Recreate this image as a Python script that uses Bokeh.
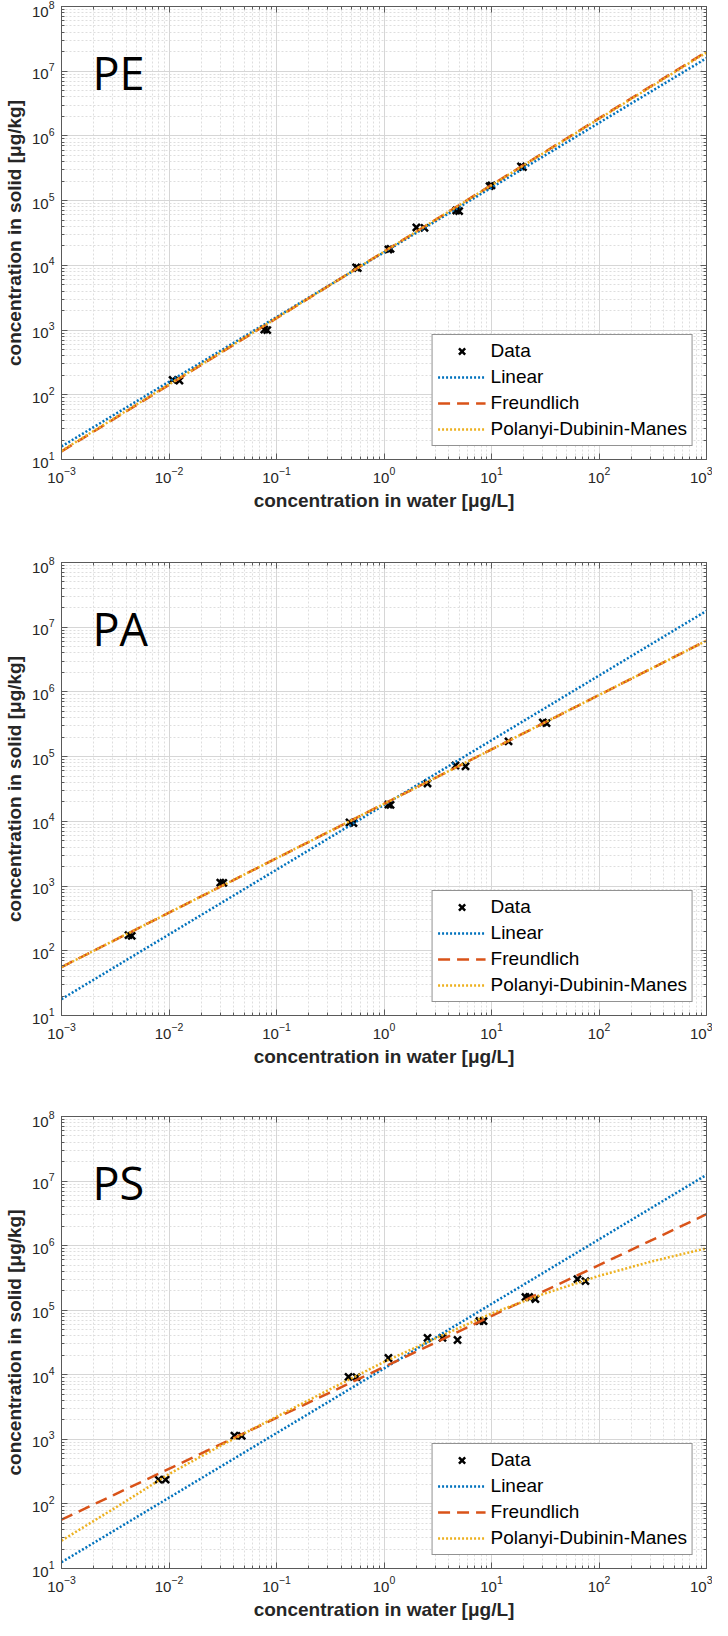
from bokeh.plotting import figure
from bokeh.models import Range1d, LogAxis, LogTicker, Legend, LegendItem, Label, CustomJSTickFormatter
from bokeh.layouts import column
from bokeh.embed import file_html
from bokeh.resources import INLINE

# ---------------- data ----------------
panel_names = ["PE", "PA", "PS"]

pe_water = [0.0108, 0.0125, 0.077, 0.082, 0.55, 0.57, 1.10, 1.15, 2.00, 2.38, 4.7, 5.0, 9.6, 10.0, 18.8, 19.6]
pe_solid = [170, 166, 1020, 1000, 9300, 9100, 17600, 18000, 38500, 38000, 70500, 69000, 168000, 172000, 338000, 330000]

pa_water = [0.0042, 0.0045, 0.030, 0.032, 0.478, 0.52, 1.10, 1.15, 2.54, 4.62, 5.73, 14.4, 30.0, 32.5]
pa_solid = [175, 170, 1130, 1120, 9600, 9400, 18200, 18000, 38500, 73000, 70600, 172000, 338000, 330000]

ps_water = [0.0080, 0.0093, 0.0406, 0.0475, 0.468, 0.555, 1.10, 2.54, 3.5, 4.83, 7.73, 8.43, 20.7, 22.4, 25.6, 63, 74.8]
ps_solid = [238, 238, 1140, 1130, 9300, 9200, 18200, 37200, 37200, 34600, 68000, 68000, 160000, 160000, 149000, 303000, 282000]

fit_x = [0.001, 1000]
pe_linear = [15.9, 1.59e7]
pe_freundlich = [13.3, 2.0e7]
pe_pdm = [13.6, 1.95e7]
pa_linear = [17.9, 1.79e7]
pa_freundlich = [56, 6.2e6]
pa_pdm = [56, 6.2e6]
ps_linear = [12.5, 1.25e7]
ps_freundlich = [57, 3.07e6]
ps_pdm_x = [0.001, 0.00316, 0.01, 0.0316, 0.1, 0.316, 1, 3.16, 10, 31.6, 100, 316, 1000]
ps_pdm = [27, 87, 290, 830, 2240, 6000, 15800, 38000, 89000, 182000, 340000, 575000, 910000]

legend_labels = ["Data", "Linear", "Freundlich", "Polanyi-Dubinin-Manes"]
x_label = "concentration in water [\u03bcg/L]"
y_label = "concentration in solid [\u03bcg/kg]"

C_LIN = "#0072BD"
C_FR = "#D95319"
C_PDM = "#EDB120"
AX = "#262626"
FONT = "Liberation Sans"


def style_axis(ax, show_labels):
    ax.axis_line_color = "#5a5a5a"
    ax.axis_line_width = 1
    ax.major_tick_line_color = "#5a5a5a"
    ax.minor_tick_line_color = "#5a5a5a"
    ax.major_tick_in = 6
    ax.major_tick_out = 0
    ax.minor_tick_in = 3
    ax.minor_tick_out = 0
    if show_labels:
        ax.major_label_text_font = FONT
        ax.major_label_text_font_size = "15px"
        ax.major_label_text_color = AX
        ax.major_label_standoff = 7
        ax.axis_label_text_font = FONT
        ax.axis_label_text_font_size = "19px"
        ax.axis_label_text_font_style = "bold"
        ax.axis_label_text_color = AX
        ax.axis_label_standoff = 4
    else:
        ax.formatter = CustomJSTickFormatter(code="return ' '")
        ax.major_label_text_font_size = "1px"
        ax.major_label_standoff = 0
        ax.axis_label_standoff = 0


def make_panel(name, wx, sy, lin_x, lin_y, fr_x, fr_y, pdm_x, pdm_y, frame_h, b_bottom):
    p = figure(x_axis_type="log", y_axis_type="log",
               x_range=Range1d(1e-3, 1e3), y_range=Range1d(10, 1e8),
               frame_width=645, frame_height=frame_h,
               min_border_left=61, min_border_right=6, min_border_top=6,
               min_border_bottom=b_bottom,
               output_backend="svg", toolbar_location=None,
               background_fill_color="white", border_fill_color="white")
    p.outline_line_color = None
    p.xaxis.ticker = LogTicker(num_minor_ticks=10)
    p.yaxis.ticker = LogTicker(num_minor_ticks=10)
    p.xaxis.axis_label = x_label
    p.yaxis.axis_label = y_label
    style_axis(p.xaxis[0], True)
    style_axis(p.yaxis[0], True)

    top = LogAxis(ticker=LogTicker(num_minor_ticks=10))
    right = LogAxis(ticker=LogTicker(num_minor_ticks=10))
    style_axis(top, False)
    style_axis(right, False)
    p.add_layout(top, "above")
    p.add_layout(right, "right")

    for g in (p.xgrid[0], p.ygrid[0]):
        g.grid_line_color = "#d6d6d6"
        g.grid_line_width = 1
        g.minor_grid_line_color = "#dedede"
        g.minor_grid_line_dash = "2 2"
        g.minor_grid_line_width = 1

    r_data = p.scatter(wx, sy, marker="x", size=10, line_width=2.5, color="black")
    r_lin = p.line(lin_x, lin_y, color=C_LIN, line_width=2.5, line_dash="2 2")
    r_fr = p.line(fr_x, fr_y, color=C_FR, line_width=2.5, line_dash="12 7")
    r_pdm = p.line(pdm_x, pdm_y, color=C_PDM, line_width=2.5, line_dash="2 2")

    legend = Legend(items=[LegendItem(label=legend_labels[0], renderers=[r_data]),
                           LegendItem(label=legend_labels[1], renderers=[r_lin]),
                           LegendItem(label=legend_labels[2], renderers=[r_fr]),
                           LegendItem(label=legend_labels[3], renderers=[r_pdm])],
                    location="bottom_right", margin=13, padding=5, spacing=4,
                    glyph_width=48, glyph_height=22, label_height=22, label_standoff=5,
                    label_text_font=FONT, label_text_font_size="19px", label_text_color="black",
                    border_line_color=AX, border_line_width=1,
                    background_fill_color="white", background_fill_alpha=1)
    p.add_layout(legend)

    p.add_layout(Label(x=0.00194, y=9.5e6, text=name, text_font="Open Sans",
                       text_font_size="45px", text_color="black",
                       text_baseline="alphabetic", text_align="left"))
    return p


p1 = make_panel(panel_names[0], pe_water, pe_solid, fit_x, pe_linear, fit_x, pe_freundlich,
                fit_x, pe_pdm, 453, 97)
p2 = make_panel(panel_names[1], pa_water, pa_solid, fit_x, pa_linear, fit_x, pa_freundlich,
                fit_x, pa_pdm, 453, 95)
p3 = make_panel(panel_names[2], ps_water, ps_solid, fit_x, ps_linear, fit_x, ps_freundlich,
                ps_pdm_x, ps_pdm, 452, 54)

layout = column(p1, p2, p3, spacing=0)
open("out.html", "w").write(file_html(layout, INLINE))
